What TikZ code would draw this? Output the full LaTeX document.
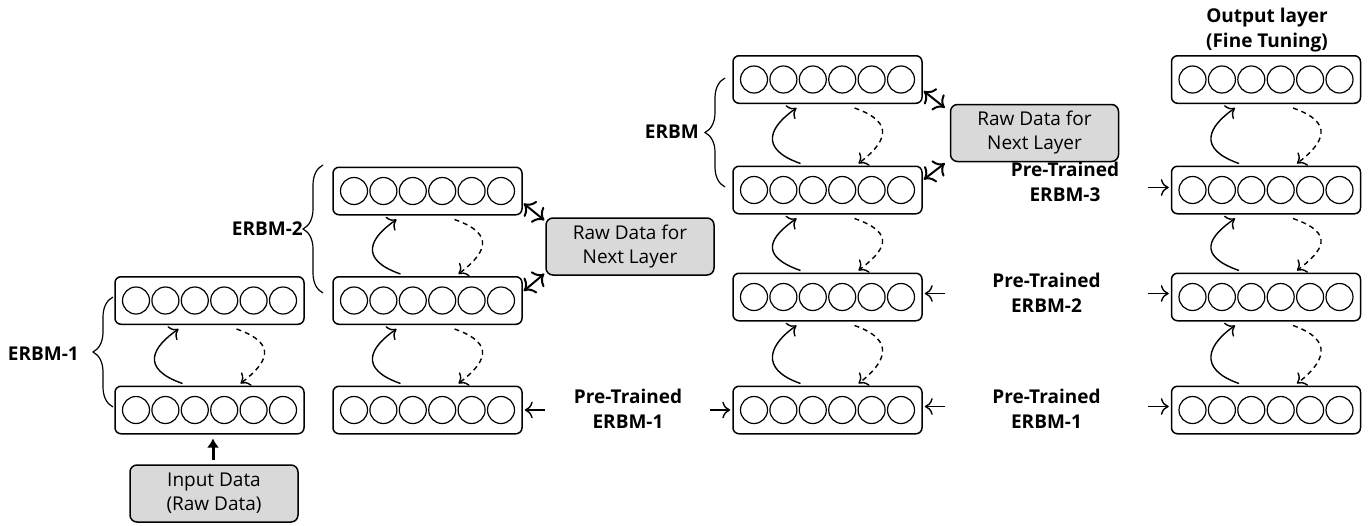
\documentclass[tikz,border=0pt]{standalone}
\usepackage{fontspec}
\setmainfont{Open Sans}
\usetikzlibrary{arrows.meta,calc,decorations.pathreplacing}

% one layer of units: a rounded box holding six circles
\newcommand\layerbox[3]{%
  \node[layer] (#1) at (#2,#3) {};
  \foreach \k in {0,...,5}
    \node[unit] (#1-u\k) at ($(#1.center)+({(\k-2.5)*29.4},0)$) {};
}
% forward (solid) and reconstruction (dashed) passes between two layers
\newcommand\passes[2]{%
  \draw[fwd] ($(#1.north)+(-27,-2)$) .. controls ($(#1.north)+(-70,-17)$) and ($(#2.south)+(-57,22)$) .. ($(#2.south)+(-31,4)$);
  \draw[bwd] ($(#2.south)+(27,4)$) .. controls ($(#2.south)+(70,19)$) and ($(#1.north)+(57,-22)$) .. ($(#1.north)+(31,-2)$);
}

\begin{document}
\begin{tikzpicture}[x=1pt,y=-1pt,
  layer/.style={draw, line width=1.5pt, rounded corners=6pt, minimum width=189pt, minimum height=47.5pt, inner sep=0pt},
  unit/.style={draw, circle, line width=1.2pt, minimum size=27pt, inner sep=0pt},
  rawbox/.style={draw, line width=1.5pt, fill=black!15, rounded corners=7pt, minimum width=168pt, minimum height=57pt, inner sep=0pt, align=center, font=\fontsize{19}{24}\selectfont},
  lbl/.style={align=center, inner sep=0pt, font=\bfseries\fontsize{19}{25}\selectfont},
  tip/.style={-{To[scale=1.7]}, line width=1.4pt},
  fwd/.style={tip},
  bwd/.style={tip, dash pattern=on 5pt off 4pt},
  link/.style={{To[scale=1.6]}-{To[scale=1.6]}, line width=2pt},
  grp/.style={decorate, decoration={brace, amplitude=20pt}, line width=1.2pt},
]
\useasboundingbox (0,0) rectangle (1372,525);

% column 1: first ERBM
\layerbox{a2}{209.5}{300.5}
\layerbox{a1}{209.5}{410}
\passes{a1}{a2}
\node[rawbox] (inp) at (214,493.5) {Input Data\\(Raw Data)};
\draw[-{Latex[length=9pt,width=12pt]}, line width=3pt] ([xshift=-1pt,yshift=4pt]inp.north) -- ([xshift=3.5pt,yshift=-4pt]a1.south);
\draw[grp] (113,407) -- (113,297);
\node[lbl, anchor=east] (e1) at (79,354) {ERBM-1};

% column 2: second ERBM
\layerbox{b3}{427.5}{191}
\layerbox{b2}{427.5}{300.5}
\layerbox{b1}{427.5}{410}
\passes{b1}{b2}
\passes{b2}{b3}
\node[rawbox] (r1) at (630,246.5) {Raw Data for\\Next Layer};
\draw[link] ($(b3.south east)+(1,-12)$) -- ($(r1.north west)+(-1,3)$);
\draw[link] ($(b2.north east)+(1,15)$) -- ($(r1.south west)+(-1,-2)$);
\draw[grp] (323,293) -- (323,165);
\node[lbl, anchor=east] (e2) at (303,229) {ERBM-2};

% pre-trained first layer shared by columns 2 and 3
\node[lbl] (p1) at (628,408.5) {Pre-Trained\\ERBM-1};
\coordinate (p1l) at (545,410);
\coordinate (p1r) at (710,410);
\draw[tip] (p1l) -- ([xshift=2pt]b1.east);

% column 3: third ERBM
\layerbox{c4}{827.5}{79.5}
\layerbox{c3}{827.5}{190}
\layerbox{c2}{827.5}{297}
\layerbox{c1}{827.5}{410}
\draw[tip] (p1r) -- ([xshift=-2pt]c1.west);
\passes{c1}{c2}
\passes{c2}{c3}
\passes{c3}{c4}
\node[rawbox] (r2) at (1034.5,133) {Raw Data for\\Next Layer};
\draw[link] ($(c4.south east)+(1,-13)$) -- ($(r2.north west)+(-5,4)$);
\draw[link] ($(c3.north east)+(1,14)$) -- ($(r2.south west)+(-5,1)$);
\draw[grp] (725,187) -- (725,78);
\node[lbl, anchor=east] (e3) at (699,132) {ERBM};

% pre-trained labels between columns 3 and 4
\node[lbl] (q3) at (1065,182) {Pre-Trained\\ERBM-3};
\node[lbl] (q2) at (1046.5,292.5) {Pre-Trained\\ERBM-2};
\node[lbl] (q1) at (1046.5,408.5) {Pre-Trained\\ERBM-1};
\coordinate (q3r) at (1148,187.5);
\coordinate (q2l) at (945,293.5);
\coordinate (q2r) at (1148,293.5);
\coordinate (q1l) at (945,406.5);
\coordinate (q1r) at (1148,406.5);
\draw[tip] (q2l) -- ([xshift=2pt]c2.east |- q2l);
\draw[tip] (q1l) -- ([xshift=2pt]c1.east |- q1l);

% column 4: stacked network with output layer
\layerbox{d4}{1266}{79.5}
\layerbox{d3}{1266}{190}
\layerbox{d2}{1266}{297}
\layerbox{d1}{1266}{410}
\passes{d1}{d2}
\passes{d2}{d3}
\passes{d3}{d4}
\draw[tip] (q3r) -- ([xshift=-2pt]d3.west |- q3r);
\draw[tip] (q2r) -- ([xshift=-2pt]d2.west |- q2r);
\draw[tip] (q1r) -- ([xshift=-2pt]d1.west |- q1r);
\node[lbl] (out) at (1267,30) {Output layer\\(Fine Tuning)};
\end{tikzpicture}
\end{document}
